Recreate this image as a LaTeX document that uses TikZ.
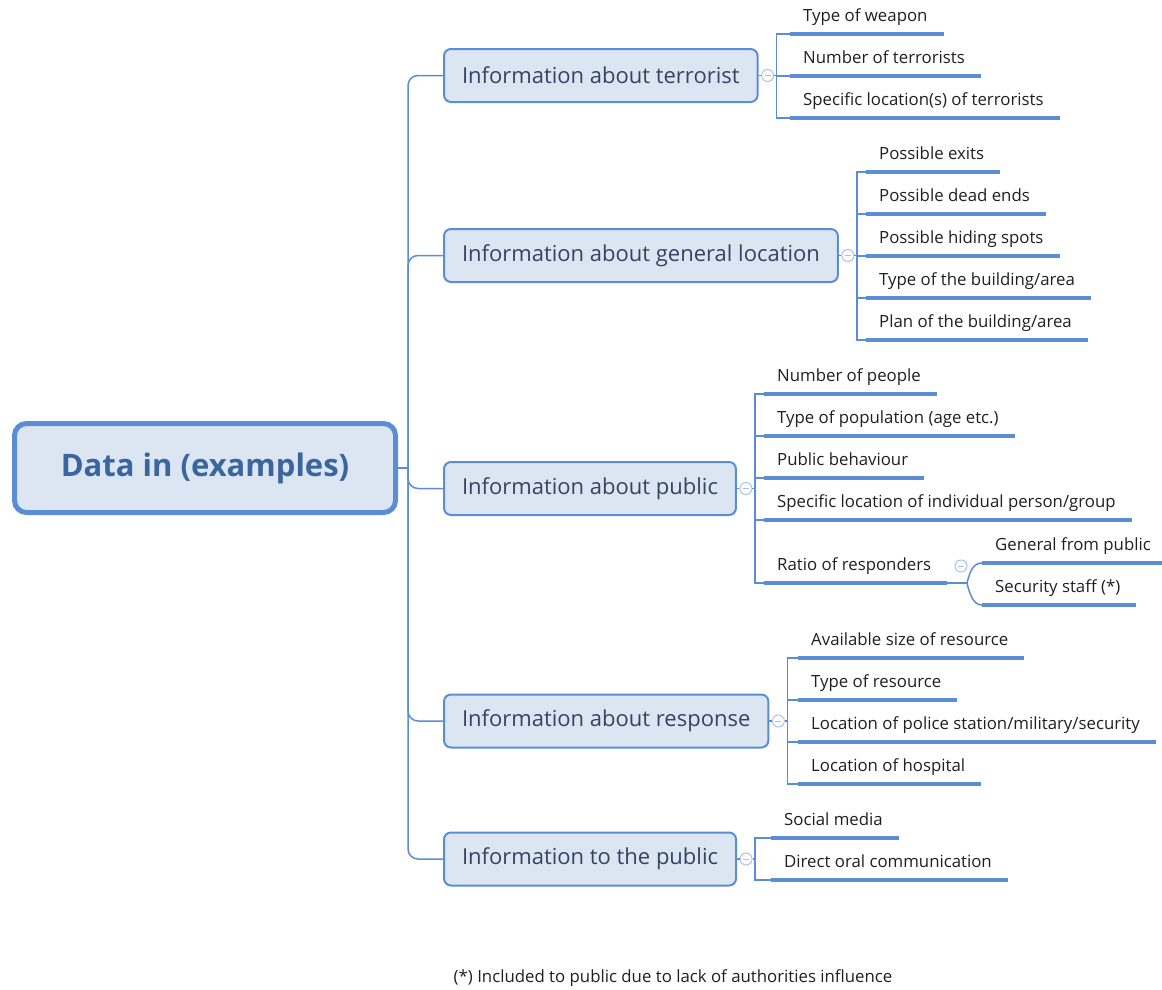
\documentclass[tikz,border=0pt]{standalone}
\usepackage{fontspec}
\setmainfont{Open Sans}
\definecolor{lineblue}{HTML}{5B8DD6}
\definecolor{boxfill}{HTML}{DCE6F2}
\definecolor{boxtext}{HTML}{344562}
\definecolor{maintext}{HTML}{3A66A0}
\definecolor{foldblue}{HTML}{A9C1EA}
\definecolor{leaftext}{HTML}{1F1F1F}
\begin{document}
\begin{tikzpicture}[x=1pt,y=-1pt,
	conn/.style={draw=lineblue,line width=1.5pt},
	uline/.style={draw=lineblue,line width=4pt},
	root/.style={draw=lineblue,fill=boxfill,line width=5pt,rounded corners=12pt,
		minimum width=381pt,minimum height=89pt,text=maintext,font=\fontsize{31}{37}\selectfont\bfseries},
	topic/.style={draw=lineblue,fill=boxfill,line width=2pt,rounded corners=7pt,anchor=west,
		inner xsep=18pt,minimum height=53pt,text=boxtext,font=\fontsize{22}{26}\selectfont},
	fold/.style={circle,draw=foldblue,fill=white,line width=1pt,minimum size=12pt,inner sep=0pt,
		path picture={\draw[foldblue,line width=1pt] ([xshift=-3pt]path picture bounding box.center) -- ([xshift=3pt]path picture bounding box.center);}},
	leaf/.style={anchor=south west,inner xsep=13pt,inner ysep=8pt,text height=12pt,text depth=4pt,
		text=leaftext,font=\fontsize{16.8}{20}\selectfont}]
\useasboundingbox (0,0) rectangle (1162,989);
\node[root] (root) at (205,468) {Data in (examples)};
\node[topic] (b1) at (443,75.5) {Information about terrorist};
\node[topic] (b2) at (443,255.5) {Information about general location};
\node[topic] (b3) at (443,488.5) {Information about public};
\node[topic] (b4) at (443,721) {Information about response};
\node[topic] (b5) at (443,859) {Information to the public};
\coordinate (hub) at (408,468);
\draw[conn] (root.east) -- (hub);
\foreach \b in {1,...,5}
	\draw[conn,rounded corners=10pt] (hub) |- (b\b.west);
\node[fold] (f1) at ([xshift=9pt]b1.east) {};
\node[fold] (f2) at ([xshift=9pt]b2.east) {};
\node[fold] (f3) at ([xshift=9pt]b3.east) {};
\node[fold] (f4) at ([xshift=9pt]b4.east) {};
\node[fold] (f5) at ([xshift=9pt]b5.east) {};
\foreach \f in {1,...,5}{
	\draw[conn] (b\f.east) -- (f\f.west);
	\coordinate (j\f) at ([xshift=9pt]f\f.center);
	\draw[conn] (f\f.east) -- (j\f);
}
\foreach \t [count=\i] in {Type of weapon,Number of terrorists,Specific location(s) of terrorists}{
	\node[leaf] (l1-\i) at (790,-8+42*\i) {\t};
	\draw[uline] (l1-\i.south west) -- ([xshift=3pt]l1-\i.south east);
	\draw[conn] (j1) |- (l1-\i.south west);
}
\foreach \t [count=\i] in {Possible exits,Possible dead ends,Possible hiding spots,Type of the building/area,Plan of the building/area}{
	\node[leaf] (l2-\i) at (866,130+42*\i) {\t};
	\draw[uline] (l2-\i.south west) -- ([xshift=3pt]l2-\i.south east);
	\draw[conn] (j2) |- (l2-\i.south west);
}
\foreach \t [count=\i] in {Number of people,Type of population (age etc.),Public behaviour,Specific location of individual person/group}{
	\node[leaf] (l3-\i) at (764,352+42*\i) {\t};
	\draw[uline] (l3-\i.south west) -- ([xshift=3pt]l3-\i.south east);
	\draw[conn] (j3) |- (l3-\i.south west);
}
\node[leaf] (l3-5) at (764,583) {Ratio of responders};
\draw[uline] (l3-5.south west) -- ([xshift=3pt]l3-5.south east);
\draw[conn] (j3) |- (l3-5.south west);
\node[fold] (f6) at (961,566) {};
\coordinate (j6) at (967,583);
\draw[conn] ([xshift=3pt]l3-5.south east) -- (j6);
\node[leaf] (l6-1) at (982,563) {General from public};
\node[leaf] (l6-2) at (982,605) {Security staff (*)};
\foreach \i in {1,2}
	\draw[uline] (l6-\i.south west) -- ([xshift=3pt]l6-\i.south east);
\draw[conn] (j6) .. controls +(3,-13) and +(-8,0) .. (l6-1.south west);
\draw[conn] (j6) .. controls +(3,13) and +(-8,0) .. (l6-2.south west);
\foreach \t [count=\i] in {Available size of resource,Type of resource,Location of police station/military/security,Location of hospital}{
	\node[leaf] (l4-\i) at (798,616+42*\i) {\t};
	\draw[uline] (l4-\i.south west) -- ([xshift=3pt]l4-\i.south east);
	\draw[conn] (j4) |- (l4-\i.south west);
}
\foreach \t [count=\i] in {Social media,Direct oral communication}{
	\node[leaf] (l5-\i) at (771,796+42*\i) {\t};
	\draw[uline] (l5-\i.south west) -- ([xshift=3pt]l5-\i.south east);
	\draw[conn] (j5) |- (l5-\i.south west);
}
\node[text=leaftext,font=\fontsize{16.8}{20}\selectfont] (note) at (673,978) {(*) Included to public due to lack of authorities influence};
\end{tikzpicture}
\end{document}
